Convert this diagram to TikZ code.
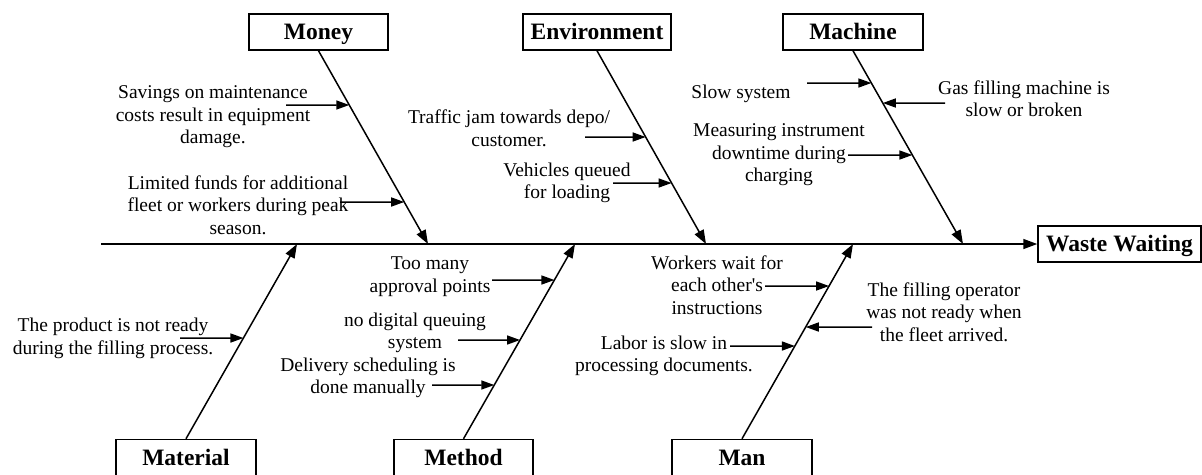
\documentclass[tikz,border=0pt]{standalone}
\usepackage{fontspec}
\setmainfont{Liberation Serif}
\usetikzlibrary{arrows.meta}
\begin{document}
\begin{tikzpicture}[x=1pt,y=-1pt,
  box/.style={draw, line width=1.5pt, minimum height=36pt, inner sep=0pt, text height=18pt, text depth=3pt, font=\fontsize{23.5}{26}\selectfont\bfseries},
  lbl/.style={align=center, font=\fontsize{19.5}{22.5}\selectfont, inner sep=0pt},
  bone/.style={line width=1.5pt, -{Triangle[length=14pt,width=10pt]}},
  sub/.style={line width=1.5pt, -{Triangle[length=13pt,width=9pt]}}]
\useasboundingbox (0,0) rectangle (1202,474);
% category boxes
\node[box, minimum width=139pt] (money) at (318.5,32) {Money};
\node[box, minimum width=148pt] (env) at (597,32) {Environment};
\node[box, minimum width=140pt] (mach) at (853,32) {Machine};
\node[box, minimum width=163pt] (effect) at (1119.5,244) {Waste Waiting};
\node[box, minimum width=140pt] (mat) at (186,457.5) {Material};
\node[box, minimum width=139pt] (meth) at (463.5,457.5) {Method};
\node[box, minimum width=140pt] (man) at (742,457.5) {Man};
% spine
\coordinate (tail) at (101,244);
\draw[bone] (tail) -- (effect.west);
% bone ends on spine
\coordinate (mE) at (428,244);
\coordinate (eE) at (706,244);
\coordinate (cE) at (963,244);
\coordinate (tE) at (297,244);
\coordinate (dE) at (575,244);
\coordinate (nE) at (853,244);
\draw[bone] (money.south) -- (mE);
\draw[bone] (env.south) -- (eE);
\draw[bone] (mach.south) -- (cE);
\draw[bone] (mat.north) -- (tE);
\draw[bone] (meth.north) -- (dE);
\draw[bone] (man.north) -- (nE);
% sub-cause start points and helper points
\coordinate (a1) at (286,105);   \coordinate (h1) at (600,105);
\coordinate (a2) at (340,202);   \coordinate (h2) at (600,202);
\coordinate (a3) at (585,137);   \coordinate (h3) at (900,137);
\coordinate (a4) at (613,183);   \coordinate (h4) at (900,183);
\coordinate (a5) at (807,83);    \coordinate (h5) at (1100,83);
\coordinate (a6) at (945,103);   \coordinate (h6) at (600,103);
\coordinate (a7) at (848,155);   \coordinate (h7) at (1100,155);
\coordinate (a8) at (180,338);   \coordinate (h8) at (500,338);
\coordinate (a9) at (492,280);   \coordinate (h9) at (800,280);
\coordinate (a10) at (458,340);  \coordinate (h10) at (800,340);
\coordinate (a11) at (432,385);  \coordinate (h11) at (800,385);
\coordinate (a12) at (765,286);  \coordinate (h12) at (1100,286);
\coordinate (a13) at (730,346);  \coordinate (h13) at (1100,346);
\coordinate (a14) at (872,327);  \coordinate (h14) at (500,327);
% sub-cause arrows
\draw[sub] (a1) -- (intersection of a1--h1 and money.south--mE);
\draw[sub] (a2) -- (intersection of a2--h2 and money.south--mE);
\draw[sub] (a3) -- (intersection of a3--h3 and env.south--eE);
\draw[sub] (a4) -- (intersection of a4--h4 and env.south--eE);
\draw[sub] (a5) -- (intersection of a5--h5 and mach.south--cE);
\draw[sub] (a6) -- (intersection of a6--h6 and mach.south--cE);
\draw[sub] (a7) -- (intersection of a7--h7 and mach.south--cE);
\draw[sub] (a8) -- (intersection of a8--h8 and mat.north--tE);
\draw[sub] (a9) -- (intersection of a9--h9 and meth.north--dE);
\draw[sub] (a10) -- (intersection of a10--h10 and meth.north--dE);
\draw[sub] (a11) -- (intersection of a11--h11 and meth.north--dE);
\draw[sub] (a12) -- (intersection of a12--h12 and man.north--nE);
\draw[sub] (a13) -- (intersection of a13--h13 and man.north--nE);
\draw[sub] (a14) -- (intersection of a14--h14 and man.north--nE);
% labels
\node[lbl] (t1) at (213,117) {Savings on maintenance\\costs result in equipment\\damage.};
\node[lbl] (t2) at (238,205) {Limited funds for additional\\fleet or workers during peak\\season.};
\node[lbl] (t3) at (509,128.5) {Traffic jam towards depo/\\customer.};
\node[lbl] (t4) at (567,183) {Vehicles queued\\for loading};
\node[lbl] (t5) at (741,94) {Slow system};
\node[lbl] (t6) at (1024,98.5) {Gas filling machine is\\slow or broken};
\node[lbl] (t7) at (779,155) {Measuring instrument\\downtime during\\charging};
\node[lbl] (t8) at (113,338.5) {The product is not ready\\during the filling process.};
\node[lbl] (t9) at (430,276.5) {Too many\\approval points};
\node[lbl] (t10) at (415,333) {no digital queuing\\system};
\node[lbl] (t11) at (368,378) {Delivery scheduling is\\done manually};
\node[lbl] (t12) at (717,285) {Workers wait for\\each other\textquotesingle s\\instructions};
\node[lbl] (t13) at (664,356) {Labor is slow in\\processing documents.};
\node[lbl] (t14) at (944,312) {The filling operator\\was not ready when\\the fleet arrived.};
\end{tikzpicture}
\end{document}
